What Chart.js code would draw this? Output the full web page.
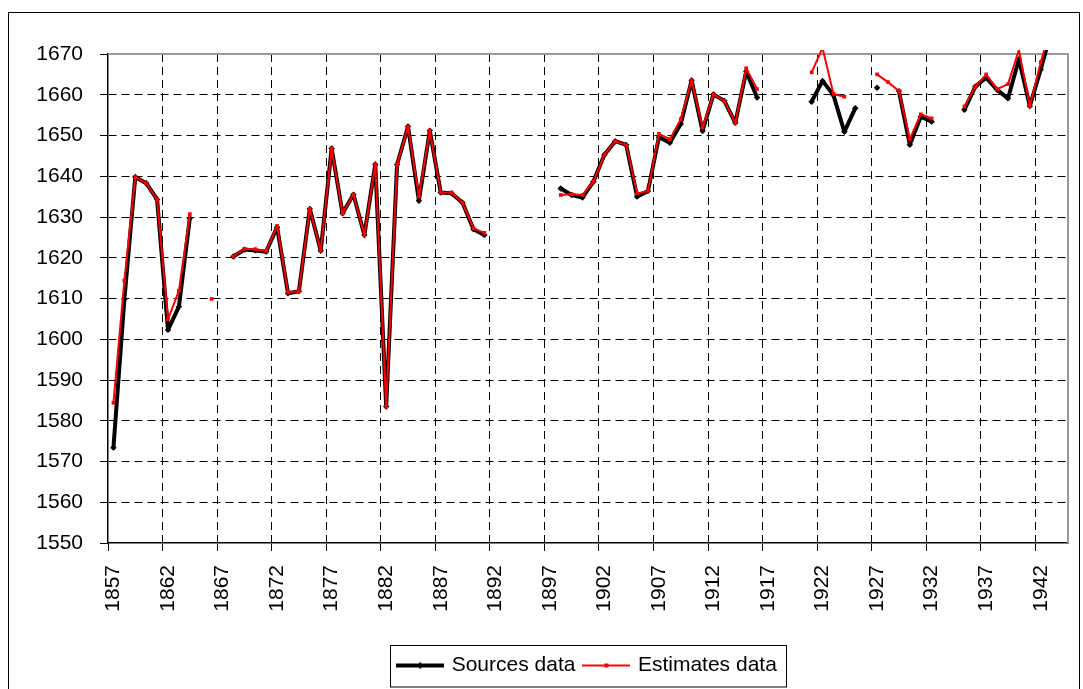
<!DOCTYPE html>
<html>
<head>
<meta charset="utf-8">
<title>Sources data vs Estimates data</title>
<script src="https://cdn.jsdelivr.net/npm/chart.js@4.4.1/dist/chart.umd.min.js"></script>
<style>
  html, body { margin: 0; padding: 0; background: #fff; }
  #wrap { width: 1083px; height: 689px; position: relative; }
</style>
</head>
<body>
<div id="wrap"><canvas id="chart"></canvas></div>
<script>
// one category per year, 1857..1944
const years = [];
for (let y = 1857; y <= 1944; y++) years.push(String(y));

const sourcesData = [
  1573.4, 1609.8, 1639.8, 1638.3, 1634.3, 1602.3, 1608.0, 1629.7, null, null,      // 1857-1866
  null, 1620.3, 1622.0, 1621.8, 1621.5, 1627.5, 1611.3, 1611.8, 1632.0, 1621.7,    // 1867-1876
  1646.8, 1630.9, 1635.5, 1625.6, 1642.9, 1583.5, 1642.9, 1652.2, 1634.0, 1651.2,  // 1877-1886
  1636.0, 1635.8, 1633.5, 1627.0, 1625.6, null, null, null, null, null,            // 1887-1896
  null, 1637.0, 1635.4, 1634.8, 1638.7, 1645.3, 1648.6, 1647.7, 1635.0, 1636.4,    // 1897-1906
  1649.6, 1648.2, 1652.8, 1663.5, 1651.1, 1660.1, 1658.5, 1653.1, 1665.7, 1659.3,  // 1907-1916
  null, null, null, null, 1658.3, 1663.4, 1659.9, 1650.9, 1656.7, null,            // 1917-1926
  1661.7, null, 1660.9, 1647.7, 1654.6, 1653.4, null, null, 1656.3, 1662.0,        // 1927-1936
  1664.2, 1661.2, 1659.1, 1668.7, 1657.2, 1666.2, 1676.0, null                     // 1937-1944
];

const estimatesData = [
  1584.4, 1614.4, 1639.8, 1638.3, 1634.3, 1604.9, 1611.9, 1630.7, null, 1609.9,    // 1857-1866
  null, 1620.3, 1622.2, 1622.1, 1621.7, 1627.8, 1611.5, 1611.8, 1632.0, 1621.7,    // 1867-1876
  1646.8, 1630.9, 1635.5, 1625.6, 1642.9, 1583.5, 1642.9, 1652.2, 1635.0, 1651.2,  // 1877-1886
  1636.0, 1636.0, 1633.5, 1627.2, 1626.1, null, null, null, null, null,            // 1887-1896
  null, 1635.4, 1635.6, 1635.4, 1638.7, 1645.3, 1648.6, 1647.7, 1635.8, 1636.4,    // 1897-1906
  1650.4, 1649.1, 1654.0, 1663.5, 1651.9, 1660.1, 1658.5, 1653.1, 1666.5, 1661.4,  // 1907-1916
  null, null, null, null, 1665.5, 1671.5, 1660.2, 1659.5, null, null,              // 1917-1926
  1665.0, 1663.1, 1660.9, 1649.1, 1655.2, 1654.2, null, null, 1657.1, 1662.0,      // 1927-1936
  1665.0, 1661.4, 1662.6, 1671.0, 1657.2, 1668.0, 1677.0, null                     // 1937-1944
];

const yMin = 1550;
const yMax = 1670;
const yStep = 10;

const font = { family: "'Liberation Sans', Arial, sans-serif", size: 21 };

// legend swatches: line with a marker in the middle
function swatch(color, width, diamond) {
  const c = document.createElement('canvas');
  c.width = 48; c.height = 10;
  const g = c.getContext('2d');
  g.strokeStyle = color;
  g.lineWidth = width;
  g.beginPath(); g.moveTo(0, 5); g.lineTo(48, 5); g.stroke();
  g.fillStyle = color;
  if (diamond) {
    g.beginPath(); g.moveTo(24, 1.5); g.lineTo(27.5, 5); g.lineTo(24, 8.5); g.lineTo(20.5, 5); g.closePath(); g.fill();
  } else {
    g.fillRect(22, 3, 4, 4);
  }
  return c;
}
const swatches = [swatch('#000', 4, true), swatch('#f00', 2, false)];

const framePlugin = {
  id: 'frame',
  beforeDatasetsDraw(chart) {
    const { ctx, chartArea: a } = chart;
    ctx.save();
    ctx.strokeStyle = '#999';
    ctx.lineWidth = 2;
    ctx.beginPath();
    ctx.moveTo(a.left, a.top);
    ctx.lineTo(a.right, a.top);
    ctx.lineTo(a.right, a.bottom);
    ctx.stroke();
    ctx.restore();
  },
  afterDraw(chart) {
    const ctx = chart.ctx;
    ctx.save();
    ctx.strokeStyle = '#000';
    ctx.lineWidth = 1;
    ctx.strokeRect(8.5, 12.5, 1071, 700);
    const boxes = chart.legend.legendHitBoxes;
    if (boxes && boxes.length) {
      const last = boxes[boxes.length - 1];
      const l = Math.round(boxes[0].left - 9) + 0.5;
      const r = Math.round(last.left + last.width + 9) + 0.5;
      const t = Math.round(chart.legend.top) + 0.5;
      ctx.strokeRect(l, t, r - l, 687 - t);
    }
    ctx.restore();
  }
};

const everyFifth = c => c.index !== undefined && c.index % 5 === 0;

new Chart(document.getElementById('chart'), {
  type: 'line',
  data: {
    labels: years,
    datasets: [
      {
        label: 'Sources data',
        data: sourcesData,
        borderColor: '#000',
        backgroundColor: '#000',
        borderWidth: 4,
        borderJoinStyle: 'round',
        borderCapStyle: 'round',
        pointStyle: 'rectRot',
        pointRadius: 3.2,
        pointBorderWidth: 0,
        spanGaps: false,
        tension: 0,
        clip: 4,
        order: 1
      },
      {
        label: 'Estimates data',
        data: estimatesData,
        borderColor: '#f00',
        backgroundColor: '#f00',
        borderWidth: 2,
        borderJoinStyle: 'round',
        borderCapStyle: 'round',
        pointStyle: 'rect',
        pointRadius: 2.6,
        pointBorderWidth: 0,
        spanGaps: false,
        tension: 0,
        clip: 4,
        order: 0
      }
    ]
  },
  options: {
    responsive: true,
    maintainAspectRatio: false,
    animation: false,
    layout: { padding: { top: 54, right: 15, bottom: 3, left: 0 } },
    plugins: {
      tooltip: { enabled: false },
      legend: {
        position: 'bottom',
        fullSize: false,
        labels: {
          color: '#000',
          font: font,
          padding: 10,
          usePointStyle: true,
          pointStyleWidth: 42,
          sort: (a, b) => a.datasetIndex - b.datasetIndex,
          generateLabels(chart) {
            const items = Chart.defaults.plugins.legend.labels.generateLabels(chart);
            items.forEach(it => { it.pointStyle = swatches[it.datasetIndex]; it.rotation = 0; });
            return items;
          }
        }
      }
    },
    scales: {
      x: {
        offset: true,
        grid: {
          offset: true,
          color: c => (everyFifth(c) && c.index > 0) ? '#000' : 'rgba(0,0,0,0)',
          tickColor: c => everyFifth(c) ? '#000' : 'rgba(0,0,0,0)',
          lineWidth: 1,
          tickLength: 8
        },
        border: { display: true, color: '#000', width: 1.5, dash: [8, 5] },
        ticks: {
          autoSkip: false,
          maxRotation: 90,
          minRotation: 90,
          padding: 14,
          color: '#000',
          font: font,
          callback(v, i) { return i % 5 === 0 ? this.getLabelForValue(v) : ''; }
        },
        afterFit(s) { s.height = 102; s.paddingRight = 0; s.paddingLeft = 0; }
      },
      y: {
        min: yMin,
        max: yMax,
        grid: {
          color: c => (c.tick && c.tick.value === yMin) ? 'rgba(0,0,0,0)' : '#000',
          tickColor: '#000',
          lineWidth: 1,
          tickLength: 8
        },
        border: { display: true, color: '#000', width: 1.5, dash: [8, 5] },
        ticks: { stepSize: yStep, padding: 17, color: '#000', font: font, callback: v => String(v) },
        afterFit(s) { s.width = 108; }
      }
    }
  },
  plugins: [framePlugin]
});
</script>
</body>
</html>
